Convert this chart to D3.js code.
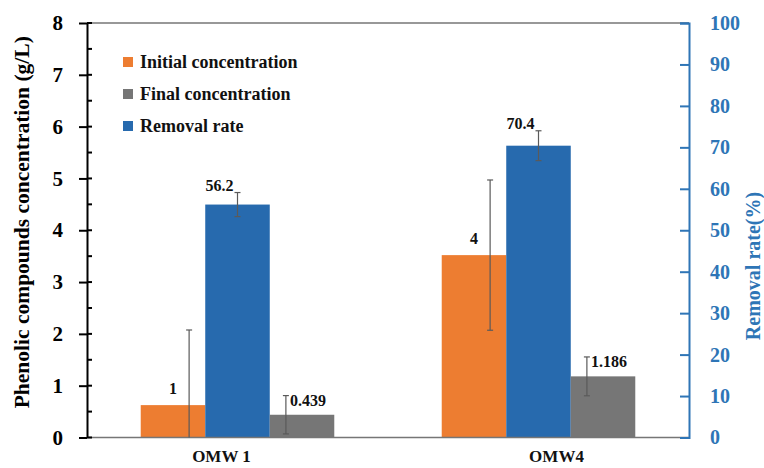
<!DOCTYPE html>
<html>
<head>
<meta charset="utf-8">
<script src="https://cdn.jsdelivr.net/npm/d3@7"></script>
<style>
  html, body { margin: 0; padding: 0; background: #fff; }
  svg text { font-family: "Liberation Serif", "Times New Roman", serif; font-weight: bold; }
</style>
</head>
<body>
<div class="figure"></div>
<script>
// data
var categories = ["OMW 1", "OMW4"]

var initialConc = [0.625, 3.52],
    initialErr  = [1.45, 1.45],
    initialLabels = ["1", "4"]

var finalConc = [0.439, 1.18],
    finalErr  = [0.37, 0.375],
    finalLabels = ["0.439", "1.186"]

var removalRate = [56.2, 70.4],
    removalErr  = [2.9, 3.6],
    removalLabels = ["56.2", "70.4"]

var leftTicks = [0, 1, 2, 3, 4, 5, 6, 7, 8],
    rightTicks = [0, 10, 20, 30, 40, 50, 60, 70, 80, 90, 100]

var legendItems = ["Initial concentration", "Final concentration", "Removal rate"]

var colors = {
    initial: "#ed7d31",
    removal: "#276aae",
    final: "#767676",
    rightAxis: "#2e75b6",
    err: "#5a5a5a",
}

var dim = { w: 764, h: 468 }
var plot = { left: 87, right: 689, top: 23, bottom: 437.5 }

var svg = d3.select("div.figure")
    .append("svg")
    .attr("width", dim.w)
    .attr("height", dim.h)

var yLeft = d3.scaleLinear().domain([0, 8]).range([plot.bottom, plot.top])
var yRight = d3.scaleLinear().domain([0, 100]).range([plot.bottom, plot.top])

var x0 = d3.scaleBand()
    .domain(categories)
    .range([plot.left, plot.right])
    .paddingInner(0.357)
    .paddingOuter(0.1785)

var x1 = d3.scaleBand()
    .domain(["initial", "removal", "final"])
    .range([0, x0.bandwidth()])

var bw = x1.bandwidth()

// table of bars built from the arrays
var bars = []
categories.forEach(function(c, i) {
    bars.push({cat: c, key: "initial", v: initialConc[i], e: initialErr[i], label: initialLabels[i], y: yLeft, eOff: bw / 4})
    bars.push({cat: c, key: "removal", v: removalRate[i], e: removalErr[i], label: removalLabels[i], y: yRight, eOff: 0})
    bars.push({cat: c, key: "final", v: finalConc[i], e: finalErr[i], label: finalLabels[i], y: yLeft, eOff: -bw / 4})
})

// top frame line
svg.append("line")
    .attr("x1", plot.left).attr("x2", plot.right)
    .attr("y1", plot.top).attr("y2", plot.top)
    .attr("stroke", "#767676").attr("stroke-width", 1.3)

// bars
svg.append("g")
    .selectAll("rect")
    .data(bars).enter()
    .append("rect")
    .attr("x", function(d) { return x0(d.cat) + x1(d.key) })
    .attr("width", bw)
    .attr("y", function(d) { return d.y(d.v) })
    .attr("height", function(d) { return plot.bottom - d.y(d.v) })
    .attr("fill", function(d) { return colors[d.key] })

// baseline
svg.append("line")
    .attr("x1", plot.left).attr("x2", plot.right)
    .attr("y1", plot.bottom).attr("y2", plot.bottom)
    .attr("stroke", "#767676").attr("stroke-width", 1.3)

// error bars
var errX = function(d) { return x0(d.cat) + x1(d.key) + bw / 2 + d.eOff }
var errTop = function(d) { return d.y(d.v + d.e) }
var errBot = function(d) { return d.y(Math.max(0, d.v - d.e)) }
var cap = 3

var eg = svg.append("g")
    .attr("stroke", colors.err)
    .attr("stroke-width", 1.2)
    .selectAll("g")
    .data(bars).enter()
    .append("g")

eg.append("line")
    .attr("x1", errX).attr("x2", errX)
    .attr("y1", errTop).attr("y2", errBot)
eg.append("line")
    .attr("x1", function(d) { return errX(d) - cap })
    .attr("x2", function(d) { return errX(d) + cap })
    .attr("y1", errTop).attr("y2", errTop)
eg.filter(function(d) { return d.v - d.e > 0 })
    .append("line")
    .attr("x1", function(d) { return errX(d) - cap })
    .attr("x2", function(d) { return errX(d) + cap })
    .attr("y1", errBot).attr("y2", errBot)

// value labels
var labelFont = 16
svg.append("g")
    .selectAll("text")
    .data(bars).enter()
    .append("text")
    .style("font-size", labelFont + "px")
    .attr("fill", "#111")
    .attr("text-anchor", function(d) {
        return d.key == "initial" ? "middle" : (d.key == "removal" ? "end" : "start")
    })
    .attr("x", function(d) {
        if (d.key == "initial") return x0(d.cat) + x1(d.key) + bw / 2
        if (d.key == "removal") return errX(d) - 4
        return errX(d) + 4
    })
    .attr("y", function(d) {
        if (d.key == "initial") return d.y(d.v) - 11
        if (d.key == "removal") return errTop(d) - 2
        return errTop(d) + 10
    })
    .text(function(d) { return d.label })

// left axis
var leftAxis = d3.axisLeft(yLeft)
    .tickValues(leftTicks)
    .tickSizeInner(8)
    .tickSizeOuter(0)
    .tickPadding(16)

var gl = svg.append("g")
    .attr("transform", "translate(" + plot.left + ",0)")
    .call(leftAxis)
gl.selectAll("path, line").attr("stroke", "#000").attr("stroke-width", 2)
gl.selectAll("text")
    .attr("fill", "#000")
    .style("font-size", "21px")
    .style("font-family", "'Liberation Serif', serif")

gl.append("g")
    .selectAll("line")
    .data(d3.range(0, 16.5).map(function(i) { return i / 2 }))
    .enter().append("line")
    .attr("x1", 0).attr("x2", 5)
    .attr("y1", function(d) { return yLeft(d) })
    .attr("y2", function(d) { return yLeft(d) })
    .attr("stroke", "#000").attr("stroke-width", 2)

// right axis
var rightAxis = d3.axisRight(yRight)
    .tickValues(rightTicks)
    .tickSizeInner(-9)
    .tickSizeOuter(-9)
    .tickPadding(21)

var gr = svg.append("g")
    .attr("transform", "translate(" + plot.right + ",0)")
    .call(rightAxis)
gr.selectAll("path, line").attr("stroke", colors.rightAxis).attr("stroke-width", 2)
gr.selectAll("text")
    .attr("fill", colors.rightAxis)
    .style("font-size", "20px")
    .style("font-family", "'Liberation Serif', serif")

// axis titles
svg.append("text")
    .attr("transform", "translate(29," + ((plot.top + plot.bottom) / 2 - 8) + ") rotate(-90)")
    .attr("text-anchor", "middle")
    .style("font-size", "21.5px")
    .attr("fill", "#000")
    .text("Phenolic compounds concentration (g/L)")

svg.append("text")
    .attr("transform", "translate(760,266) rotate(-90)")
    .attr("text-anchor", "middle")
    .style("font-size", "20px")
    .attr("fill", colors.rightAxis)
    .text("Removal rate(%)")

// category labels
var catOffset = [-16, 18]
svg.append("g")
    .selectAll("text")
    .data(categories).enter()
    .append("text")
    .attr("x", function(d, i) { return x0(d) + x0.bandwidth() / 2 + catOffset[i] })
    .attr("y", 462)
    .attr("text-anchor", "middle")
    .style("font-size", "17px")
    .attr("fill", "#111")
    .text(function(d) { return d })

// legend
var legendKeys = ["initial", "final", "removal"]
var lg = svg.append("g")
    .selectAll("g")
    .data(legendItems).enter()
    .append("g")
    .attr("transform", function(d, i) { return "translate(123," + (62 + i * 32) + ")" })

lg.append("rect")
    .attr("x", 0).attr("y", -5)
    .attr("width", 10).attr("height", 10)
    .attr("fill", function(d, i) { return colors[legendKeys[i]] })

lg.append("text")
    .attr("x", 17).attr("y", 6)
    .style("font-size", "18px")
    .attr("fill", "#111")
    .text(function(d) { return d })
</script>
</body>
</html>
